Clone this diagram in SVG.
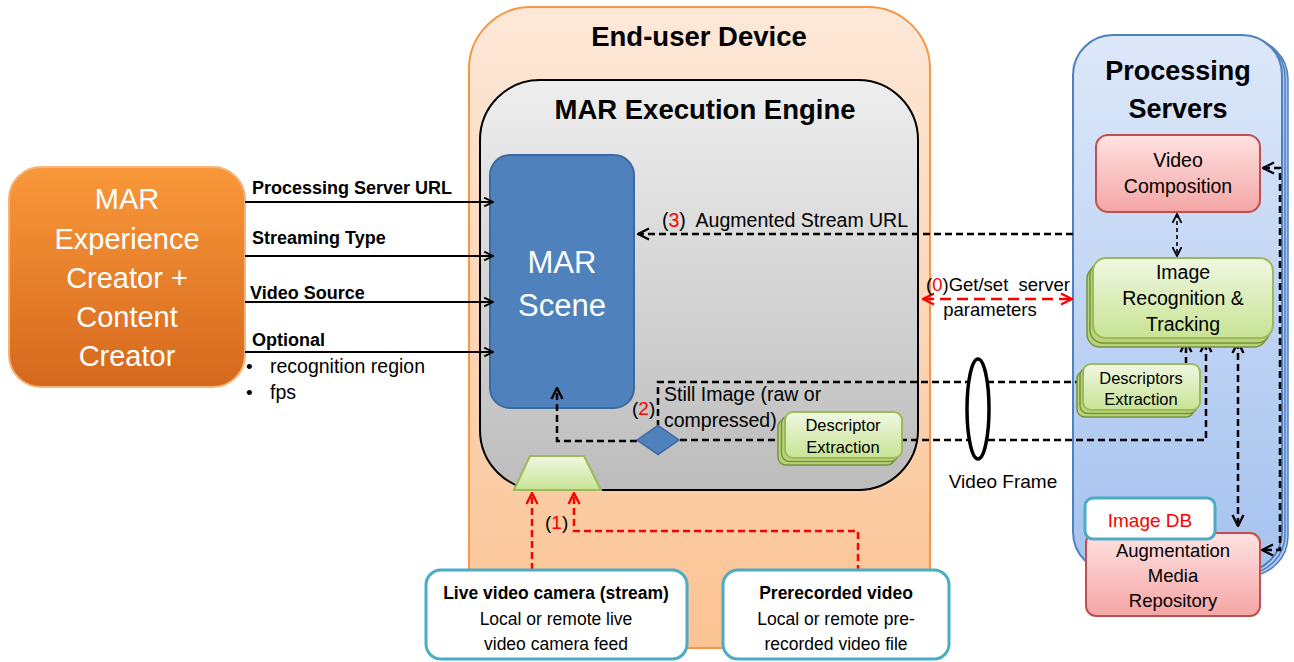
<svg xmlns="http://www.w3.org/2000/svg" width="1294" height="662" viewBox="0 0 1294 662">
<style>
text{font-family:"Liberation Sans",Arial,sans-serif;fill:#000}
.b{font-weight:bold}
.c{text-anchor:middle}
.w{fill:#fff}
.r{fill:#ff0000}
.ln{fill:none;stroke:#000;stroke-width:2}
.dsh{fill:none;stroke:#000;stroke-width:2.5;stroke-dasharray:7,4}
.dshs{fill:none;stroke:#000;stroke-width:1.6;stroke-dasharray:4,3}
.red{fill:none;stroke:#ff0000;stroke-width:2.5;stroke-dasharray:7,4}
.redl{fill:none;stroke:#ff0000;stroke-width:2.5;stroke-dasharray:11,6}
.green{fill:url(#gGreen);stroke:#9bbb59;stroke-width:2}
.greenb{fill:#b7d47a;stroke:#77933c;stroke-width:1.5}
.pink{fill:url(#gPink);stroke:#c0504d;stroke-width:2}
.cyan{fill:#fff;stroke:#4bacc6;stroke-width:3}
</style>
<defs>
<linearGradient id="gOrange" x1="0" y1="0" x2="0" y2="1"><stop offset="0" stop-color="#f9983a"/><stop offset="1" stop-color="#d5681d"/></linearGradient>
<linearGradient id="gPeach" x1="0" y1="0" x2="0" y2="1"><stop offset="0" stop-color="#fde8d8"/><stop offset="1" stop-color="#fbc393"/></linearGradient>
<linearGradient id="gGray" x1="0" y1="0" x2="0" y2="1"><stop offset="0" stop-color="#eeeeee"/><stop offset="1" stop-color="#bcbcbc"/></linearGradient>
<linearGradient id="gBlue" x1="0" y1="0" x2="0" y2="1"><stop offset="0" stop-color="#dde8f9"/><stop offset="1" stop-color="#a5c2ef"/></linearGradient>
<linearGradient id="gGreen" x1="0" y1="0" x2="0" y2="1"><stop offset="0" stop-color="#f0f8e2"/><stop offset="1" stop-color="#c8e394"/></linearGradient>
<linearGradient id="gPink" x1="0" y1="0" x2="0" y2="1"><stop offset="0" stop-color="#ffe2e2"/><stop offset="1" stop-color="#f5a5a5"/></linearGradient>
<marker id="ah" viewBox="0 0 10 10" refX="9" refY="5" markerWidth="5.5" markerHeight="5.5" orient="auto-start-reverse" markerUnits="strokeWidth"><path d="M1,1 L9,5 L1,9" fill="none" stroke="#000" stroke-width="1.7"/></marker>
<marker id="ahs" viewBox="0 0 10 10" refX="9" refY="5" markerWidth="7" markerHeight="7" orient="auto-start-reverse" markerUnits="strokeWidth"><path d="M1,1 L9,5 L1,9" fill="none" stroke="#000" stroke-width="1.6"/></marker>
<marker id="ahr" viewBox="0 0 10 10" refX="9" refY="5" markerWidth="5.5" markerHeight="5.5" orient="auto-start-reverse" markerUnits="strokeWidth"><path d="M1,1 L9,5 L1,9" fill="none" stroke="#ff0000" stroke-width="1.7"/></marker>
</defs>
<rect width="1294" height="662" fill="#fff"/>

<g id="creator">
<rect x="9" y="167" width="236" height="220" rx="32" fill="url(#gOrange)" stroke="#f6b47a" stroke-width="2"/>
<text class="c w" x="127" y="209" font-size="29">MAR</text>
<text class="c w" x="127" y="249" font-size="29">Experience</text>
<text class="c w" x="127" y="288" font-size="29">Creator +</text>
<text class="c w" x="127" y="327" font-size="29">Content</text>
<text class="c w" x="127" y="366" font-size="29">Creator</text>
</g>

<g id="end-user-device">
<rect x="469" y="7" width="461" height="641" rx="62" fill="url(#gPeach)" stroke="#f79646" stroke-width="2"/>
<text class="c b" x="699" y="46" font-size="27.5">End-user Device</text>
</g>

<g id="processing-servers">
<rect x="1079" y="39" width="209" height="537" rx="40" fill="#a9c4ee" stroke="#4f81bd" stroke-width="1.5"/>
<rect x="1076" y="37" width="209" height="537" rx="40" fill="#b3cbf0" stroke="#4f81bd" stroke-width="1.5"/>
<rect x="1073" y="35" width="209" height="537" rx="40" fill="url(#gBlue)" stroke="#4f81bd" stroke-width="2"/>
<text class="c b" x="1178" y="80" font-size="27">Processing</text>
<text class="c b" x="1178" y="118" font-size="27">Servers</text>
</g>

<g id="mar-execution-engine">
<rect x="480" y="80" width="438" height="410" rx="60" fill="url(#gGray)" stroke="#000" stroke-width="2"/>
<text class="c b" x="705" y="119" font-size="27.5">MAR Execution Engine</text>
</g>

<g id="mar-scene">
<rect x="490" y="155" width="144" height="253" rx="20" fill="#4f81bd" stroke="#3b6a9e" stroke-width="2"/>
<text class="c w" x="562" y="273" font-size="31">MAR</text>
<text class="c w" x="562" y="316" font-size="31">Scene</text>
</g>

<g id="connectors">
<line class="ln" x1="245" y1="202" x2="493" y2="202" marker-end="url(#ah)"/>
<line class="ln" x1="245" y1="256" x2="493" y2="256" marker-end="url(#ah)"/>
<line class="ln" x1="245" y1="302" x2="493" y2="302" marker-end="url(#ah)"/>
<line class="ln" x1="245" y1="352" x2="493" y2="352" marker-end="url(#ah)"/>
<text class="b" x="252" y="194" font-size="18">Processing Server URL</text>
<text class="b" x="252" y="244" font-size="18">Streaming Type</text>
<text class="b" x="250" y="299" font-size="18">Video Source</text>
<text class="b" x="252" y="346" font-size="18">Optional</text>
<text x="246" y="373" font-size="19">•</text>
<text x="270" y="373" font-size="19.5">recognition region</text>
<text x="246" y="399" font-size="19">•</text>
<text x="270" y="399" font-size="19.5">fps</text>

<path class="dsh" d="M1073,234 L638,234" marker-end="url(#ah)"/>
<text x="662" y="227" font-size="19.5" xml:space="preserve">(<tspan class="r">3</tspan>)  Augmented Stream URL</text>

<path class="redl" d="M923,299 L1072,299" marker-start="url(#ahr)" marker-end="url(#ahr)"/>
<text class="c" x="998" y="291" font-size="18.5" xml:space="preserve">(<tspan class="r">0</tspan>)Get/set  server</text>
<text class="c" x="990" y="316" font-size="18.5">parameters</text>

<path class="dshs" d="M1177,214 L1177,256" marker-start="url(#ahs)" marker-end="url(#ahs)"/>

<path class="dsh" d="M1082,382 L658,382 L658,426"/>
<path class="dsh" d="M680,440 L1206,440 L1206,341" marker-end="url(#ah)"/>
<path class="dsh" d="M637,441 L557,441 L557,388" marker-end="url(#ah)"/>
<path class="dsh" d="M1186,364 L1186,341" marker-end="url(#ah)"/>
<path class="dsh" d="M1238,342 L1238,526" marker-start="url(#ah)" marker-end="url(#ah)"/>
<path class="dsh" d="M1263,168 L1280,168 L1280,550 L1262,550" marker-start="url(#ah)" marker-end="url(#ah)"/>

<text x="632" y="415" font-size="19">(<tspan class="r">2</tspan>)</text>
<text x="664" y="401" font-size="19.5">Still Image (raw or</text>
<text x="664" y="427" font-size="19.5">compressed)</text>

<path class="red" d="M532,570 L532,493" marker-end="url(#ahr)"/>
<path class="red" d="M858,572 L858,531 L574,531 L574,493" marker-end="url(#ahr)"/>
<text x="545" y="529" font-size="19">(<tspan class="r">1</tspan>)</text>
</g>

<g id="video-frame">
<ellipse cx="978" cy="409" rx="11" ry="50" fill="#fff" stroke="#000" stroke-width="3.5"/>
<text class="c" x="1003" y="488" font-size="19">Video Frame</text>
</g>

<g id="source-switch">
<polygon points="530,456 584,456 601,490 514,490" fill="url(#gGreen)" stroke="#9bbb59" stroke-width="2"/>
</g>

<g id="diamond">
<polygon points="637,440 658,425.5 679,440 658,454.5" fill="#4f81bd" stroke="#3b6a9e" stroke-width="1.5"/>
</g>

<g id="descriptor-extraction-local">
<rect x="778" y="419" width="117" height="46" rx="8" class="greenb"/>
<rect x="781.5" y="415.5" width="117" height="46" rx="8" class="greenb"/>
<rect x="785" y="412" width="117" height="46" rx="8" class="green"/>
<text class="c" x="843" y="431" font-size="16.5">Descriptor</text>
<text class="c" x="843" y="453" font-size="16.5">Extraction</text>
</g>

<g id="video-composition">
<rect x="1096" y="135" width="164" height="77" rx="12" class="pink"/>
<text class="c" x="1178" y="167" font-size="19.5">Video</text>
<text class="c" x="1178" y="193" font-size="19.5">Composition</text>
</g>

<g id="image-recognition">
<rect x="1087" y="266" width="180" height="81" rx="13" class="greenb"/>
<rect x="1090" y="262" width="180" height="81" rx="13" class="greenb"/>
<rect x="1093" y="258" width="180" height="80" rx="13" class="green"/>
<text class="c" x="1183" y="279" font-size="19.5">Image</text>
<text class="c" x="1183" y="305" font-size="19.5">Recognition &amp;</text>
<text class="c" x="1183" y="331" font-size="19.5">Tracking</text>
</g>

<g id="descriptors-extraction-server">
<rect x="1077" y="371" width="117" height="46" rx="8" class="greenb"/>
<rect x="1080" y="367.5" width="117" height="46" rx="8" class="greenb"/>
<rect x="1083" y="364" width="117" height="46" rx="8" class="green"/>
<text class="c" x="1141" y="384" font-size="16.5">Descriptors</text>
<text class="c" x="1141" y="405" font-size="16.5">Extraction</text>
</g>

<g id="augmentation-media-repository">
<rect x="1086" y="533" width="174" height="83" rx="10" class="pink"/>
<text class="c" x="1173" y="557" font-size="18.5">Augmentation</text>
<text class="c" x="1173" y="582" font-size="18.5">Media</text>
<text class="c" x="1173" y="607" font-size="18.5">Repository</text>
</g>

<g id="image-db">
<rect x="1085" y="498" width="130" height="41" rx="8" class="cyan"/>
<text class="c r" x="1150" y="527" font-size="19">Image DB</text>
</g>

<g id="live-video-camera">
<rect x="426" y="570" width="261" height="89" rx="15" class="cyan"/>
<text class="c b" x="556" y="599" font-size="17.5">Live video camera (stream)</text>
<text class="c" x="556" y="625" font-size="17.5">Local or remote live</text>
<text class="c" x="556" y="650" font-size="17.5">video camera feed</text>
</g>

<g id="prerecorded-video">
<rect x="723" y="570" width="226" height="89" rx="15" class="cyan"/>
<text class="c b" x="836" y="599" font-size="17.5">Prerecorded video</text>
<text class="c" x="836" y="625" font-size="17.5">Local or remote pre-</text>
<text class="c" x="836" y="650" font-size="17.5">recorded video file</text>
</g>
</svg>
